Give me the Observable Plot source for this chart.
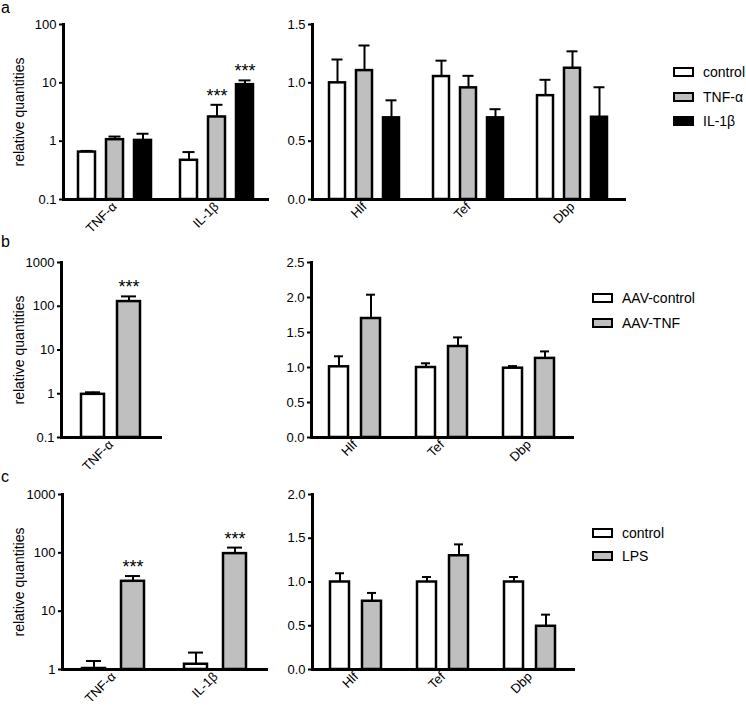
<!DOCTYPE html>
<html><head><meta charset="utf-8">
<script src="https://cdn.jsdelivr.net/npm/d3@7"></script>
<script src="https://cdn.jsdelivr.net/npm/@observablehq/plot@0.6"></script>
<style>
body{margin:0;background:#fff;font-family:'Liberation Sans',Arial,sans-serif;color:#000;}
#fig{position:relative;width:746px;height:706px;overflow:hidden;background:#fff;}
.panel{position:absolute;}
.panel svg{overflow:visible;}
.letter{position:absolute;left:1px;font-size:16px;line-height:16px;}
.ylab{position:absolute;font-size:14px;line-height:16px;white-space:nowrap;transform:translate(-50%,-50%) rotate(-90deg);}
.leg{position:absolute;font-size:14px;line-height:14px;height:14px;display:flex;align-items:center;white-space:nowrap;}
.sw{width:17px;height:6px;border:2.5px solid #000;margin-right:9px;}
</style></head><body><div id="fig"></div>
<script>
// ---- data ----
const genesA1 = ["TNF-α", "IL-1β"];
const seriesA = ["control", "TNF-α", "IL-1β"];
const meanA1  = [[0.65, 1.06, 1.03], [0.47, 2.6, 9.3]];
const upperA1 = [[0.68, 1.2, 1.34], [0.65, 4.2, 11]];
const sigA1   = [["", "", ""], ["", "***", "***"]];

const genesClock = ["Hlf", "Tef", "Dbp"];
const meanA2  = [[1.0, 1.105, 0.70], [1.054, 0.957, 0.70], [0.89, 1.125, 0.705]];
const upperA2 = [[1.2, 1.32, 0.85], [1.19, 1.06, 0.774], [1.026, 1.27, 0.962]];

const seriesB = ["AAV-control", "AAV-TNF"];
const genesB1 = ["TNF-α"];
const meanB1  = [[0.97, 128]];
const upperB1 = [[1.08, 168]];
const sigB1   = [["", "***"]];
const meanB2  = [[1.01, 1.70], [1.0, 1.30], [0.99, 1.13]];
const upperB2 = [[1.16, 2.04], [1.06, 1.43], [1.02, 1.23]];

const seriesC = ["control", "LPS"];
const genesC1 = ["TNF-α", "IL-1β"];
const meanC1  = [[1.04, 32.5], [1.23, 97]];
const upperC1 = [[1.4, 40], [1.95, 123]];
const sigC1   = [["", "***"], ["", "***"]];
const meanC2  = [[1.0, 0.78], [1.0, 1.30], [1.0, 0.494]];
const upperC2 = [[1.10, 0.875], [1.057, 1.43], [1.057, 0.627]];

const ticksA1 = [0.1, 1, 10, 100];
const ticksB1 = [0.1, 1, 10, 100, 1000];
const ticksC1 = [1, 10, 100, 1000];
const ticksA2 = [0, 0.5, 1.0, 1.5];
const ticksB2 = [0, 0.5, 1.0, 1.5, 2.0, 2.5];
const ticksC2 = [0, 0.5, 1.0, 1.5, 2.0];

const fills3 = ["#ffffff", "#bfbfbf", "#000000"];
const fills2 = ["#ffffff", "#bfbfbf"];
const yLabel = "relative quantities";
const letters = ["a", "b", "c"];

// ---- helpers ----
function rows(genes, series, mean, upper, sig) {
  return genes.flatMap((g, i) => series.map((s, j) => ({
    gene: g, series: s, mean: mean[i][j], upper: upper[i][j], sig: sig ? sig[i][j] : ""
  })));
}
const fig = document.getElementById("fig");
const logFmt = d => String(d);
const linFmt = d3.format(".1f");

function panel(o) {
  const data = rows(o.genes, o.series, o.mean, o.upper, o.sig);
  const base = o.yDomain[0];
  const marks = [
    Plot.ruleX(data, {fx: "gene", x: "series", y1: "mean", y2: "upper", stroke: "#000", strokeWidth: 2}),
    Plot.tickY(data, {fx: "gene", x: "series", y: "upper", stroke: "#000", strokeWidth: 2, insetLeft: o.cap, insetRight: o.cap}),
    Plot.barY(data, {fx: "gene", x: "series", y1: base, y2: "mean", fill: "series", stroke: "#000", strokeWidth: 2.5}),
    Plot.text(data.filter(d => d.sig), {fx: "gene", x: "series", y: "upper", text: "sig", dy: -3, lineAnchor: "bottom", fontSize: 18}),
    Plot.frame({anchor: "bottom", stroke: "#000", strokeWidth: 3}),
    Plot.frame({anchor: "left", stroke: "#000", strokeWidth: 3, facetAnchor: "left"}),
    Plot.axisY(o.yTicks, {tickFormat: o.fmt, tickSize: 4, tickPadding: 3, strokeWidth: 2, label: null, fontSize: 13}),
    Plot.axisFx({anchor: "bottom", tickRotate: -45, tickSize: 0, tickPadding: 5, label: null, fontSize: 13})
  ];
  const plot = Plot.plot({
    width: o.width, height: 232,
    marginLeft: o.ml, marginRight: 10, marginTop: 20, marginBottom: 37,
    style: {background: "transparent", overflow: "visible", fontFamily: "'Liberation Sans', Arial, sans-serif", fontSize: "13px", color: "#000"},
    fx: {domain: o.genes, padding: 0},
    x: {domain: o.series, paddingInner: o.pi, paddingOuter: o.po, axis: null},
    y: {type: o.log ? "log" : "linear", domain: o.yDomain},
    color: {domain: o.series, range: o.fills},
    marks
  });
  const div = document.createElement("div");
  div.className = "panel";
  div.style.left = o.left + "px";
  div.style.top = o.top + "px";
  div.appendChild(plot);
  fig.appendChild(div);
  if (o.ylabel) {
    const l = document.createElement("div");
    l.className = "ylab";
    l.style.left = "19px";
    l.style.top = (o.top + 20 + 87.5) + "px";
    l.textContent = yLabel;
    fig.appendChild(l);
  }
}

function legend(series, fills, left, centers) {
  series.forEach((s, i) => {
    const d = document.createElement("div");
    d.className = "leg";
    d.style.left = left + "px";
    d.style.top = (centers[i] - 7) + "px";
    const sw = document.createElement("span");
    sw.className = "sw";
    sw.style.background = fills[i];
    const t = document.createElement("span");
    t.textContent = s;
    d.appendChild(sw); d.appendChild(t);
    fig.appendChild(d);
  });
}

// ---- row a ----
panel({left: 0, top: 4, width: 277, ml: 63, genes: genesA1, series: seriesA, mean: meanA1, upper: upperA1, sig: sigA1,
  log: true, yDomain: [0.1, 100], yTicks: ticksA1, fmt: logFmt, fills: fills3, pi: 0.40, po: 0.49, cap: 2.5, ylabel: true});
panel({left: 250, top: 4, width: 384, ml: 61, genes: genesClock, series: seriesA, mean: meanA2, upper: upperA2,
  log: false, yDomain: [0, 1.5], yTicks: ticksA2, fmt: linFmt, fills: fills3, pi: 0.39, po: 0.56, cap: 2.5});
legend(seriesA, fills3, 673, [71.5, 96.5, 121]);

// ---- row b ----
panel({left: 0, top: 242, width: 170, ml: 61, genes: genesB1, series: seriesB, mean: meanB1, upper: upperB1, sig: sigB1,
  log: true, yDomain: [0.1, 1000], yTicks: ticksB1, fmt: logFmt, fills: fills2, pi: 0.375, po: 0.56, cap: 4, ylabel: true});
panel({left: 250, top: 242, width: 333, ml: 60, genes: genesClock, series: seriesB, mean: meanB2, upper: upperB2,
  log: false, yDomain: [0, 2.5], yTicks: ticksB2, fmt: linFmt, fills: fills2, pi: 0.394, po: 0.525, cap: 5});
legend(seriesB, fills2, 592, [298, 323]);

// ---- row c ----
panel({left: 0, top: 474, width: 276, ml: 61, genes: genesC1, series: seriesC, mean: meanC1, upper: upperC1, sig: sigC1,
  log: true, yDomain: [1, 1000], yTicks: ticksC1, fmt: logFmt, fills: fills2, pi: 0.405, po: 0.5, cap: 4, ylabel: true});
panel({left: 250, top: 474, width: 333, ml: 61, genes: genesClock, series: seriesC, mean: meanC2, upper: upperC2,
  log: false, yDomain: [0, 2.0], yTicks: ticksC2, fmt: linFmt, fills: fills2, pi: 0.394, po: 0.525, cap: 5});
legend(seriesC, fills2, 592, [533, 556]);

// ---- panel letters ----
[0, 234, 469].forEach((t, i) => {
  const d = document.createElement("div");
  d.className = "letter";
  d.style.top = t + "px";
  d.textContent = letters[i];
  fig.appendChild(d);
});
</script></body></html>
